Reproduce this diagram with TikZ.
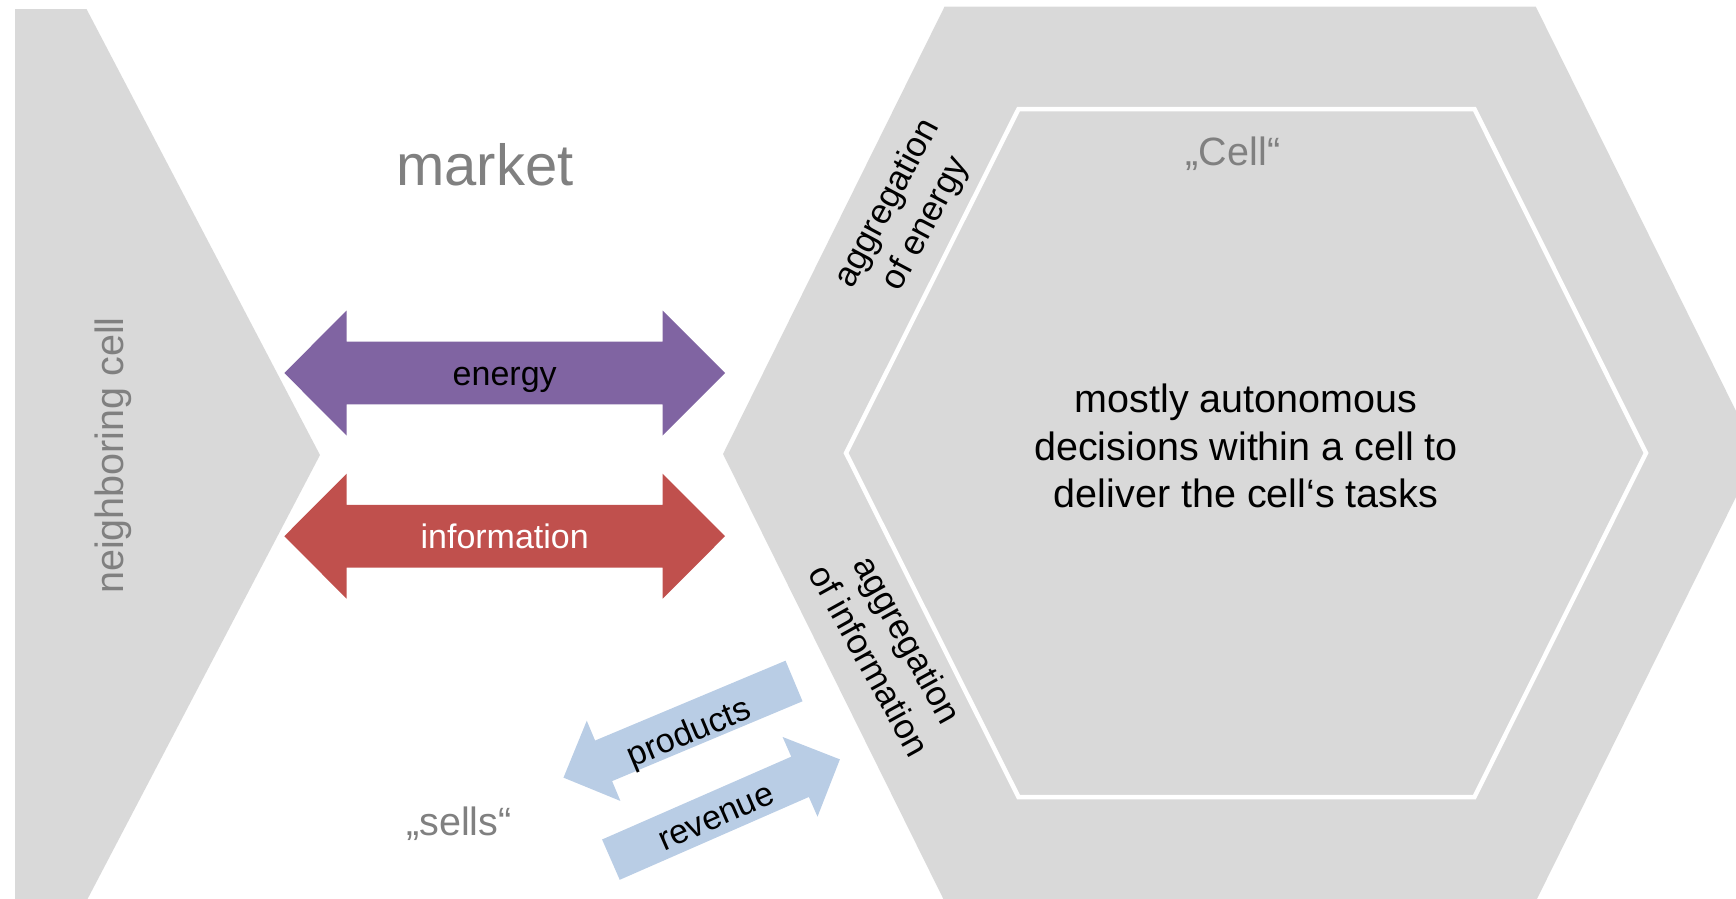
\documentclass[tikz,border=0pt]{standalone}
\usepackage{fontspec}
\setmainfont{Liberation Sans}
\definecolor{cellgray}{RGB}{217,217,217}
\definecolor{txtgray}{RGB}{128,128,128}
\definecolor{energyc}{RGB}{128,100,162}
\definecolor{infoc}{RGB}{192,80,77}
\definecolor{flowc}{RGB}{185,205,229}
\tikzset{
  lbl/.style={inner sep=0pt, font=\fontsize{34}{41}\selectfont},
  gtext/.style={inner sep=0pt, text=txtgray, font=\fontsize{39.5}{47.4}\selectfont},
  maintext/.style={inner sep=0pt, align=center, font=\fontsize{39.5}{47.5}\selectfont},
  aggtext/.style={inner sep=0pt, align=center, font=\fontsize{35}{43.5}\selectfont},
  dblarrow/.pic={\fill[#1] (-220.35,0) -- (-158,-62.5) -- (-158,-31.3) -- (158,-31.3) -- (158,-62.5)
     -- (220.35,0) -- (158,62.5) -- (158,31.3) -- (-158,31.3) -- (-158,62.5) -- cycle;},
  sglarrow/.pic={\fill[flowc] (-125,-22) -- (81.5,-22) -- (81.5,-43.5) -- (125,0)
     -- (81.5,43.5) -- (81.5,22) -- (-125,22) -- cycle;}
}
\begin{document}
\begin{tikzpicture}[x=1pt,y=-1pt]
\useasboundingbox (0,0) rectangle (1736,898);
\clip (0,0) rectangle (1736,898);
% neighboring cell shape
\fill[cellgray] (15,9) -- (86.5,9) -- (320,455) -- (86.5,901) -- (15,901) -- cycle;
% cell hexagon
\fill[cellgray] (723,454) -- (944.5,6.7) -- (1535.8,6.7) -- (1757.3,454) -- (1535.8,901.3) -- (944.5,901.3) -- cycle;
\draw[white, line width=4.5pt] (846,453) -- (1018.5,109) -- (1474.4,109) -- (1646,453) -- (1474.4,797) -- (1018.5,797) -- cycle;
% market arrows
\pic at (504.65,373) {dblarrow=energyc};
\pic at (504.65,536.2) {dblarrow=infoc};
\pic[rotate=202.75] at (678.75,729.3) {sglarrow};
\pic[rotate=23.65] at (725.4,809.5) {sglarrow};
% texts
\node[gtext, rotate=90, anchor=base] (nbr) at (123.3,455.5) {neighboring cell};
\node[gtext, font=\fontsize{58}{70}\selectfont, anchor=base] (market) at (485,185) {market};
\node[lbl, anchor=base] (energy) at (504.7,385) {energy};
\node[lbl, text=white, anchor=base] (info) at (504.7,548.3) {information};
\node[lbl, rotate=22.75] (products) at (689.7,734.3) {products};
\node[lbl, rotate=23.65] (revenue) at (716.7,818.3) {revenue};
\node[gtext, anchor=base] (sells) at (459,835) {„sells“};
\node[gtext, anchor=base] (cell) at (1233,165) {„Cell“};
\node[maintext] (desc) at (1246,446) {mostly autonomous\\decisions within a cell to\\deliver the cell‘s tasks};
\node[aggtext, rotate=62] (aggE) at (907,214) {aggregation\\of energy};
\node[aggtext, rotate=-61] (aggI) at (889,650) {aggregation\\of information};
\end{tikzpicture}
\end{document}
